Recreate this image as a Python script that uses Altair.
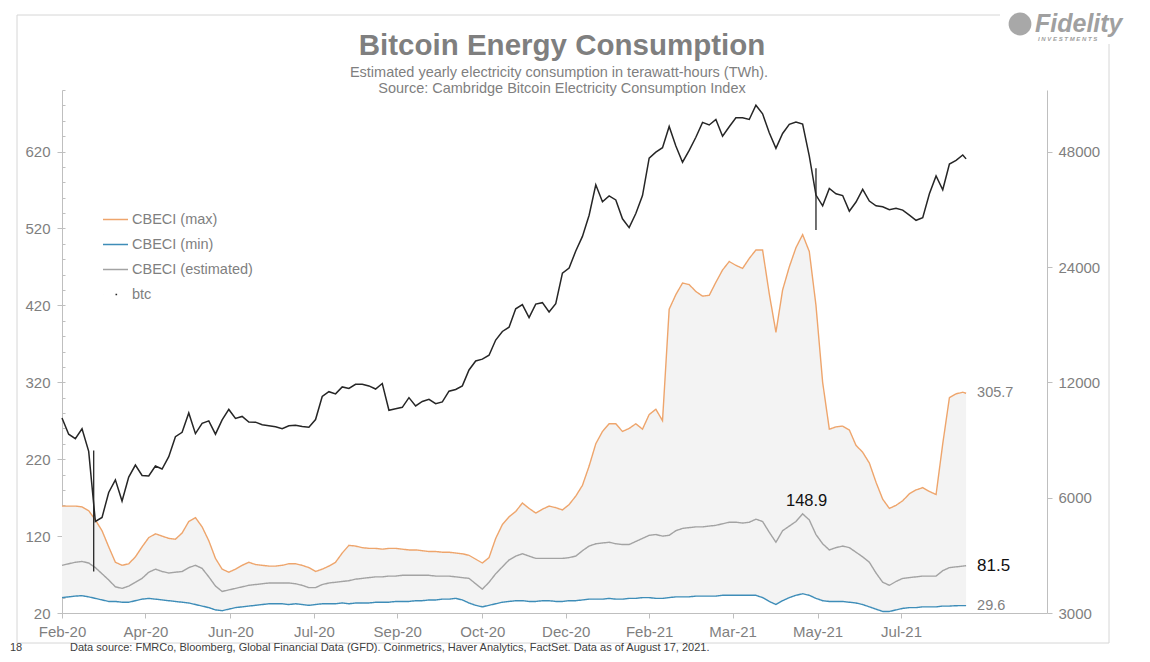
import altair as alt
import pandas as pd

# ---------------- data ----------------
start_date = "2020-02-22"
sample_dates = list(pd.date_range(start_date, periods=136, freq="4D")) + [pd.Timestamp("2021-08-17")]

cbeci_max = [159, 159, 159, 158, 153, 141, 127, 106, 86, 82,
             84, 93, 106, 118, 123, 120, 117, 116, 124, 139,
             144, 132, 114, 91, 77, 73, 77, 82, 86, 83,
             82, 81, 81, 82, 84, 84, 82, 79, 74, 77,
             81, 86, 98, 108, 107, 105, 104, 104, 103, 104,
             104, 103, 102, 102, 101, 100, 100, 99, 99, 98,
             97, 95, 90, 85, 92, 117, 135, 145, 152, 163,
             156, 150, 155, 159, 157, 154, 161, 172, 186, 211,
             240, 256, 266, 266, 256, 260, 266, 259, 278, 285,
             270, 415, 434, 449, 447, 438, 432, 433, 450, 466,
             477, 472, 468, 481, 492, 492, 435, 385, 440, 470,
             495, 512, 490, 420, 320, 259, 262, 263, 258, 238,
             229, 215, 190, 168, 156, 160, 166, 175, 180, 183,
             178, 174, 240, 300, 305, 307, 305.7]

cbeci_min = [40, 41, 42, 42.5, 41, 39, 37, 35, 35, 34,
             34, 36, 38, 39, 38, 37, 36, 35, 34, 33,
             31, 29, 27, 24, 23, 25, 27, 28, 29, 30,
             31, 32, 32, 32, 31, 32, 31, 30, 31, 32,
             32, 32, 33, 32, 33, 33, 33, 34, 34, 34,
             35, 35, 35, 36, 36, 37, 37, 38, 38, 39,
             37, 33, 30, 28, 30, 32, 34, 35, 36, 36,
             35, 35, 36, 36, 35, 35, 36, 36, 37, 38,
             38, 38, 39, 38, 38, 39, 39, 40, 40, 39,
             39, 40, 41, 41, 41, 42, 42, 42, 42, 43,
             43, 43, 43, 43, 43, 40, 35, 31, 36, 40,
             43, 45, 43, 39, 36, 35, 35, 35, 34, 33,
             31, 28, 25, 22, 22, 24, 26, 27, 27, 28,
             28, 28, 29, 29, 29.5, 29.6, 29.6]

cbeci_est = [82, 84, 86, 87, 85, 79, 71, 63, 54, 52,
             55, 60, 65, 73, 77, 74, 72, 73, 74, 79,
             82, 78, 67, 55, 48, 50, 52, 54, 56, 57,
             58, 59, 59, 59, 59, 58, 56, 53, 53, 57,
             59, 60, 61, 62, 64, 65, 66, 67, 67, 68,
             68, 69, 69, 69, 69, 69, 68, 68, 68, 67,
             66, 65, 58, 51, 60, 71, 80, 89, 94, 97,
             94, 91, 91, 91, 91, 91, 92, 94, 101, 107,
             110, 111, 112, 110, 109, 109, 113, 117, 121, 122,
             120, 121, 127, 130, 131, 132, 132, 133, 134, 136,
             138, 138, 137, 138, 142, 139, 125, 112, 127, 133,
             139, 148.9, 141, 122, 110, 102, 105, 107, 105, 99,
             93, 86, 72, 60, 56, 61, 65, 66, 67, 68,
             68, 68, 75, 79, 80, 81, 81.5]

btc_price = [9690, 8790, 8560, 9080, 7930, 5200, 5330, 6190, 6680, 5880,
             6790, 7300, 6860, 6840, 7260, 7130, 7680, 8660, 8890, 9990,
             8820, 9380, 9520, 8790, 9580, 10200, 9660, 9780, 9460, 9450,
             9300, 9250, 9190, 9090, 9250, 9280, 9200, 9170, 9600, 11030,
             11350, 11200, 11680, 11570, 11860, 11870, 11750, 11530, 11920, 10150,
             10240, 10330, 10950, 10420, 10700, 10840, 10560, 10670, 11380, 11500,
             11750, 12930, 13650, 13800, 14130, 15480, 16300, 16720, 18680, 19160,
             17730, 19220, 19380, 18320, 19270, 23150, 23870, 26440, 28860, 32780,
             39370, 35540, 36820, 35930, 32090, 30430, 33110, 36900, 46200, 47900,
             49200, 55900, 49700, 45100, 48400, 52400, 57300, 56400, 58300, 52700,
             55800, 58900, 58900, 58300, 63500, 60300, 53800, 49000, 53600, 56600,
             57400, 56700, 46800, 37000, 34700, 38500, 37300, 36900, 33600, 35500,
             38300, 35700, 34700, 34500, 33900, 34200, 33800, 32800, 31800, 32300,
             37300, 41500, 38200, 44600, 45600, 47100, 46000]

wick_dates = ["2020-03-12", "2021-05-19"]
wick_low = [3850, 30000]
wick_high = [7970, 43500]

series_names = ["CBECI (max)", "CBECI (min)", "CBECI (estimated)", "btc"]
series_colors = ["#EEA56C", "#3E8DB8", "#A3A3A3", "#262626"]
series_dash = [[1, 0], [1, 0], [1, 0], [0.01, 12.5, 1.6, 30]]

x_tick_dates = ["2020-02-22", "2020-04-12", "2020-06-02", "2020-07-22", "2020-09-10",
                "2020-10-31", "2020-12-20", "2021-02-08", "2021-03-30", "2021-05-20",
                "2021-07-09"]
left_ticks = [20, 120, 220, 320, 420, 520, 620]
right_ticks = [3000, 6000, 12000, 24000, 48000]

title_text = "Bitcoin Energy Consumption"
subtitle_1 = "Estimated yearly electricity consumption in terawatt-hours (TWh)."
subtitle_2 = "Source: Cambridge Bitcoin Electricity Consumption Index"
footer_num = "18"
footer_text = ("Data source: FMRCo, Bloomberg, Global Financial Data (GFD). Coinmetrics, "
               "Haver Analytics, FactSet.  Data as of August 17, 2021.")

# ---------------- tables ----------------
wide = pd.DataFrame({"date": sample_dates, "max": cbeci_max, "min": cbeci_min,
                     "est": cbeci_est, "btc": btc_price})
long = pd.DataFrame({
    "date": sample_dates * 3,
    "series": [series_names[0]] * len(sample_dates) + [series_names[1]] * len(sample_dates)
              + [series_names[2]] * len(sample_dates),
    "value": cbeci_max + cbeci_min + cbeci_est,
})
wicks = pd.DataFrame({"date": pd.to_datetime(wick_dates), "low": wick_low, "high": wick_high})

last = sample_dates[-1]
end_max = pd.DataFrame({"date": [last], "v": [cbeci_max[-1]], "t": [f"{cbeci_max[-1]:.1f}"]})
end_min = pd.DataFrame({"date": [last], "v": [cbeci_min[-1]], "t": [f"{cbeci_min[-1]:.1f}"]})
end_est = pd.DataFrame({"date": [last], "v": [cbeci_est[-1]], "t": [f"{cbeci_est[-1]:.1f}"]})
pk = max(range(len(cbeci_est)), key=lambda i: cbeci_est[i])
peak_est = pd.DataFrame({"date": [sample_dates[pk]], "v": [cbeci_est[pk]], "t": [f"{cbeci_est[pk]:.1f}"]})
one = pd.DataFrame({"k": [0]})

# ---------------- styling ----------------
FONT = "Liberation Sans"
GRAY = "#7f7f7f"
AXC = "#bfbfbf"
W, H = 985, 523


def dt(s):
    t = pd.Timestamp(s)
    return alt.DateTime(year=t.year, month=t.month, date=t.day)


x_scale = alt.Scale(domain=[dt("2020-02-22"), alt.DateTime(year=2021, month=10, date=4, hours=12)])
x_axis = alt.Axis(values=[dt(d) for d in x_tick_dates], format="%b-%y", title=None, grid=False,
                  labelFont=FONT, labelFontSize=15, labelColor=GRAY, labelFlush=False,
                  domainColor=AXC, tickColor=AXC, tickSize=5, labelPadding=6, labelOverlap=False)
x_enc = alt.X("date:T", scale=x_scale, axis=x_axis)

yL = alt.Scale(domain=[20, 700], nice=False, zero=False)
yR = alt.Scale(type="log", domain=[3000, 69600], nice=False)

left_axis = alt.Axis(orient="left", values=left_ticks, title=None, grid=False,
                     labelFont=FONT, labelFontSize=15, labelColor=GRAY,
                     domainColor=AXC, tickColor=AXC, tickSize=5, labelPadding=7)
minor_axis = alt.Axis(orient="right", offset=-W, values=list(range(20, 701, 20)), title=None,
                      grid=False, labels=False, domain=False, tickColor=AXC, tickSize=3)
right_axis = alt.Axis(orient="right", values=right_ticks, format="d", title=None, grid=False,
                      labelFont=FONT, labelFontSize=15, labelColor=GRAY,
                      domainColor=AXC, tickColor=AXC, tickSize=5, labelPadding=6)

legend_style = dict(orient="none", legendX=40, legendY=116, title=None,
                    symbolType="stroke", symbolSize=625, symbolStrokeWidth=1.5,
                    labelFont=FONT, labelFontSize=14.5, labelColor=GRAY,
                    rowPadding=5, padding=0, labelOffset=3)

# ---------------- layers ----------------
band = alt.Chart(wide).mark_area(color="#f3f3f3").encode(
    x=x_enc, y=alt.Y("max:Q", scale=yL, axis=left_axis), y2="min:Q")

minor = alt.Chart(wide).mark_point(opacity=0).encode(
    x=x_enc, y=alt.Y("max:Q", scale=yL, axis=minor_axis))

lines = alt.Chart(long).mark_line(strokeWidth=1.4).encode(
    x=x_enc,
    y=alt.Y("value:Q", scale=yL, axis=None),
    color=alt.Color("series:N", scale=alt.Scale(domain=series_names, range=series_colors),
                    legend=alt.Legend(**legend_style)),
    strokeDash=alt.StrokeDash("series:N", scale=alt.Scale(domain=series_names, range=series_dash),
                              legend=alt.Legend(**legend_style)),
)

btc_line = alt.Chart(wide).mark_line(color="#262626", strokeWidth=1.5).encode(
    x=x_enc, y=alt.Y("btc:Q", scale=yR, axis=right_axis))

btc_wicks = alt.Chart(wicks).mark_rule(color="#262626", strokeWidth=1.3).encode(
    x=x_enc, y=alt.Y("low:Q", scale=yR, axis=None), y2="high:Q")


def end_label(df, size, color, **kw):
    return alt.Chart(df).mark_text(font=FONT, fontSize=size, color=color, **kw).encode(
        x=x_enc, y=alt.Y("v:Q", scale=yL, axis=None), text="t:N")


lab_max = end_label(end_max, 14.5, GRAY, align="left", baseline="middle", dx=11)
lab_min = end_label(end_min, 14.5, GRAY, align="left", baseline="middle", dx=11)
lab_est = end_label(end_est, 17, "#111111", align="left", baseline="middle", dx=11)
lab_peak = end_label(peak_est, 16.5, "#111111", align="center", baseline="middle", dx=4, dy=-13)


def deco_text(text, x, y, **kw):
    return alt.Chart(one).mark_text(text=text, font=FONT, **kw).encode(
        x=alt.value(x), y=alt.value(y))


frame = alt.Chart(one).mark_rect(fill=None, stroke="#d6d6d6", strokeWidth=1).encode(
    x=alt.value(-45), x2=alt.value(1047), y=alt.value(-75), y2=alt.value(553))
logo_bg = alt.Chart(one).mark_rect(fill="white").encode(
    x=alt.value(938), x2=alt.value(1080), y=alt.value(-90), y2=alt.value(-46))
logo_sun = alt.Chart(one).mark_point(filled=True, color="#a8a8a8", size=520, opacity=1).encode(
    x=alt.value(958), y=alt.value(-66))

title = deco_text(title_text, 500, -35.5, fontSize=29.5, fontWeight="bold", color=GRAY,
                  align="center", baseline="alphabetic")
sub1 = deco_text(subtitle_1, 497, -13.5, fontSize=14.5, color=GRAY, align="center",
                 baseline="alphabetic")
sub2 = deco_text(subtitle_2, 500, 3, fontSize=14.5, color=GRAY, align="center",
                 baseline="alphabetic")
foot_n = deco_text(footer_num, -52, 561, fontSize=11, color="#404040", align="left",
                   baseline="alphabetic")
foot_t = deco_text(footer_text, 8, 561, fontSize=11, color="#404040", align="left",
                   baseline="alphabetic")
logo_t = deco_text("Fidelity", 973, -58, fontSize=25, fontWeight="bold", fontStyle="italic",
                   color="#a0a0a0", align="left", baseline="alphabetic")
logo_s = deco_text("I N V E S T M E N T S", 976, -49, fontSize=6, fontWeight="bold",
                   fontStyle="italic", color="#a0a0a0", align="left", baseline="alphabetic")

chart = alt.layer(
    frame, band, minor, lines, btc_line, btc_wicks,
    lab_max, lab_min, lab_est, lab_peak,
    title, sub1, sub2, foot_n, foot_t, logo_bg, logo_sun, logo_t, logo_s,
).resolve_scale(y="independent").properties(
    width=W, height=H,
    autosize=alt.AutoSizeParams(type="none"),
    padding={"left": 54, "top": 82, "right": 95, "bottom": 41},
    background="white",
).configure_view(stroke=None)

chart.save("out.html", embed_options={"renderer": "svg", "actions": False})
